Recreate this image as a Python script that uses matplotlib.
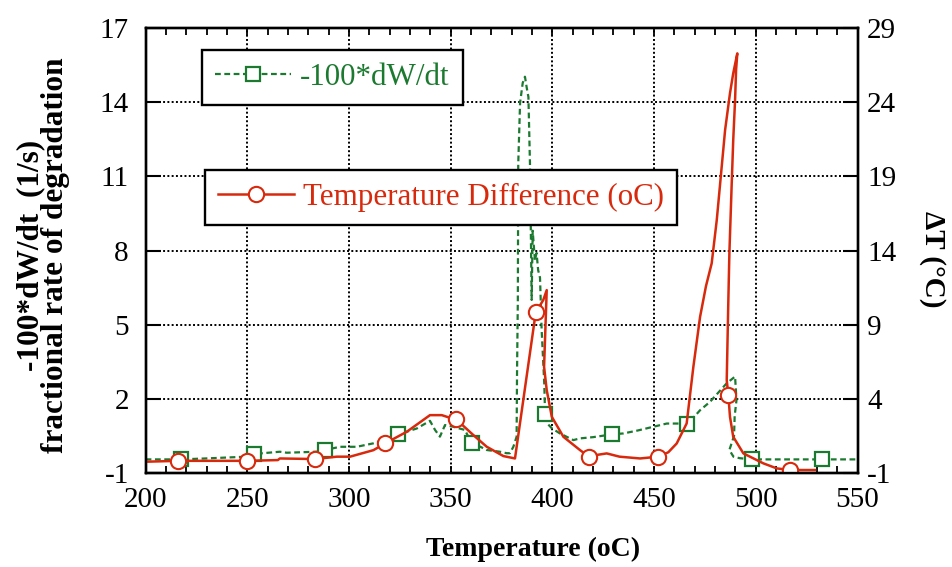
import matplotlib
matplotlib.use("Agg")
import matplotlib.pyplot as plt
from matplotlib.lines import Line2D

plt.rcParams['font.family'] = ['Liberation Serif', 'DejaVu Serif']
plt.rcParams['axes.unicode_minus'] = False

# -100*dW/dt curve (left axis)
temp_dw = [200, 213, 217.3, 230, 249.7, 253.3, 266, 269.4, 284.1, 288.2, 295.6, 303.8, 312,
           324.2, 333.3, 339.8, 342.3, 344.7, 347.2, 351.3, 357, 360.3, 364.6, 367.7, 374.2,
           377.5, 379.1, 380.8, 382.4, 382.6, 383.0, 383.2, 384.1, 385.4, 386.5, 387.4, 388.2,
           389.0, 389.8, 390.3, 391.4, 392.2, 393.0, 393.9, 394.7, 396.0, 396.4, 397.5, 399.7,
           403.7, 410.3, 413.6, 420, 429.2, 434.9, 442, 449.6, 456.2, 466.0, 470, 472.6, 477.5,
           481, 485.7, 489.8, 490.5, 489.6, 489.3, 487.0, 489.0, 492, 498.0, 520, 532.4, 550]
dwdt = [-0.45, -0.45, -0.45, -0.41, -0.34, -0.23, -0.14, -0.18, -0.14, -0.07, 0.06, 0.06, 0.2,
        0.56, 0.8, 1.11, 0.74, 0.47, 0.94, 0.87, 0.74, 0.2, 0.06, -0.07, -0.14,
        -0.2, -0.2, 0.06, 0.47, 3.0, 6.0, 11.5, 13.97, 14.78, 15.03, 14.57, 14.21,
        11.38, 6.0, 8.8, 7.6, 7.9, 7.2, 6.9, 4.8, 2.6, 1.37, 1.0, 0.81,
        0.6, 0.33, 0.4, 0.45, 0.56, 0.6, 0.72, 0.87, 1.0, 1.0, 1.3, 1.54, 1.88,
        2.2, 2.63, 2.9, 1.95, 1.3, 0.5, -0.07, -0.34, -0.4, -0.45, -0.45, -0.45, -0.45]

# temperature difference curve (right axis)
temp_dt = [200, 216.1, 230, 249.7, 265, 266, 283.3, 294, 300.5, 312, 317.7, 328.4, 339.8,
           345.6, 349, 352.6, 356, 361.1, 367.7, 375.9, 381.6, 391.8, 395.5, 397.2, 395.9,
           397.2, 399.7, 405.4, 413.6, 418, 421, 426.7, 433, 443.1, 452.1, 457, 461.1, 466,
           469.3, 472.6, 475.5, 478.3, 480.8, 484.9, 487.3, 488.9, 490.9, 490.3, 489.8,
           488.9, 488.1, 487, 486.5, 485.7, 486.5, 487.3, 488.9, 493.9, 503.7, 510.3, 516.8,
           529.1]
delta_t = [-0.24, -0.18, -0.18, -0.18, -0.13, -0.02, -0.06, 0.1, 0.1, 0.54, 0.99, 1.78, 2.9,
           2.9, 2.75, 2.63, 2.2, 1.56, 0.77, 0.14, -0.02, 9.83, 10.66, 11.33, 6.16,
           4.59, 2.79, 1.44, 0.54, 0.1, 0.2, 0.32, 0.1, -0.02, 0.1, 0.4, 0.99, 2.34,
           6.16, 9.53, 11.6, 13.13, 16.05, 22.12, 24.6, 25.95, 27.29, 26.17, 24.14,
           21.45, 18.3, 13.8, 10.66, 5.26, 4.25, 2.79, 1.44, 0.32, -0.35, -0.69, -0.8,
           -0.8]

# marker positions
sq_temp = [217.3, 253.3, 288.2, 324.2, 360.3, 396.4, 429.2, 466.0, 498.0, 532.4]
sq_val = [-0.45, -0.23, -0.07, 0.56, 0.2, 1.37, 0.56, 1.0, -0.45, -0.45]
circ_temp = [216.1, 249.7, 283.3, 317.7, 352.6, 391.8, 418, 452.1, 486.5, 516.8]
circ_val = [-0.18, -0.18, -0.06, 0.99, 2.63, 9.83, 0.1, 0.1, 4.25, -0.8]

green = '#1b7a2f'
red = '#d8290c'
dash = (0, (2.6, 1.6))

fig = plt.figure(figsize=(9.53, 5.67), dpi=100)
ax = fig.add_axes([0.1528, 0.1658, 0.747, 0.7848])
ax2 = ax.twinx()

ax.plot(temp_dw, dwdt, color=green, lw=1.6, ls=dash)
ax.plot(sq_temp, sq_val, ls='none', marker='s', ms=10.5, mfc='white', mec=green, mew=1.6)
ax2.plot(temp_dt, delta_t, color=red, lw=1.8)
ax2.plot(circ_temp, circ_val, ls='none', marker='o', ms=11, mfc='white', mec=red, mew=1.5)

ax.set_xlim(200, 550)
ax.set_ylim(-1, 17)
ax2.set_ylim(-1, 29)
ax.set_xticks(range(200, 551, 50))
ax.set_xticks(range(200, 551, 10), minor=True)
ax.set_yticks(range(-1, 18, 3))
ax2.set_yticks(range(-1, 30, 5))
ax.grid(True, which='major', color='black', ls=(0, (1, 1.2)), lw=1.4)

ax.tick_params(axis='x', which='both', direction='in', top=True, length=5, width=1.3,
               labelsize=21, pad=10)
ax.tick_params(axis='y', direction='in', length=11, width=1.5, labelsize=21, pad=12)
ax2.tick_params(axis='y', direction='in', length=11, width=1.5, labelsize=21, pad=7)
for a in (ax, ax2):
    for s in a.spines.values():
        s.set_linewidth(1.7)

ax.set_xlabel('Temperature (oC)', fontsize=20, fontweight='bold')
ax.xaxis.set_label_coords(0.544, -0.143)
ax.set_ylabel('-100*dW/dt  (1/s)\nfractional rate of degradation', fontsize=22.5,
              fontweight='bold', linespacing=0.8)
ax.yaxis.set_label_coords(-0.106, 0.49)
ax2.set_ylabel('ΔT (°C)', fontsize=21, fontweight='bold', rotation=-90, va='center')
ax2.yaxis.set_label_coords(1.106, 0.48)

h1 = Line2D([], [], color=green, lw=1.6, ls=dash, marker='s', ms=10.5, mfc='white',
            mec=green, mew=1.6)
h2 = Line2D([], [], color=red, lw=1.8, marker='o', ms=11, mfc='white', mec=red, mew=1.5)
leg_opts = dict(loc='upper left', borderaxespad=0, fontsize=22.3, borderpad=0.42,
                handlelength=2.45, handletextpad=0.3, fancybox=False, framealpha=1,
                edgecolor='black')
leg1 = ax2.legend([h1], ['-100*dW/dt'], bbox_to_anchor=(0.0792, 0.9506), **leg_opts)
for t in leg1.get_texts():
    t.set_color(green)
leg1.get_frame().set_linewidth(1.7)
ax2.add_artist(leg1)
leg2 = ax2.legend([h2], ['Temperature Difference (oC)'], bbox_to_anchor=(0.0834, 0.681),
                  **leg_opts)
for t in leg2.get_texts():
    t.set_color(red)
leg2.get_frame().set_linewidth(1.7)

fig.savefig('out.png', dpi=100)
